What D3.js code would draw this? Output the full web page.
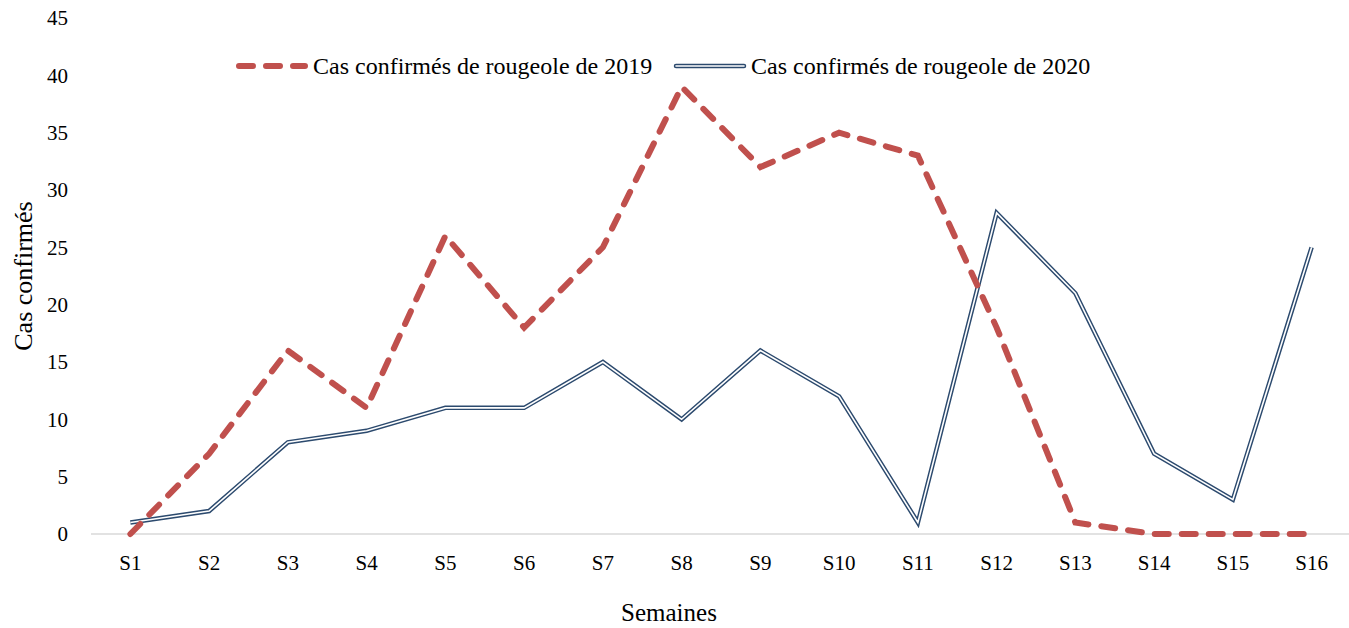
<!DOCTYPE html>
<html>
<head>
<meta charset="utf-8">
<script src="https://cdn.jsdelivr.net/npm/d3@7"></script>
<style>
  body { margin: 0; background: #fff; }
  text { font-family: "Liberation Serif", "Times New Roman", serif; fill: #000; }
</style>
</head>
<body>
<svg id="chart" width="1349" height="628"></svg>
<script>
var weeks = ["S1","S2","S3","S4","S5","S6","S7","S8","S9","S10","S11","S12","S13","S14","S15","S16"];
var cases2019 = [0, 7, 16, 11, 26, 18, 25, 39, 32, 35, 33, 18, 1, 0, 0, 0];
var cases2020 = [1, 2, 8, 9, 11, 11, 15, 10, 16, 12, 1, 28, 21, 7, 3, 25];
var yTicks = [0, 5, 10, 15, 20, 25, 30, 35, 40, 45];
var seriesNames = ["Cas confirmés de rougeole de 2019", "Cas confirmés de rougeole de 2020"];

var svg = d3.select("#chart");
var red = "#c0504d", navy = "#2c4a6e";

var x = d3.scaleBand().domain(weeks).range([91, 1351]);
var y = d3.scaleLinear().domain([0, 45]).range([534, 18]);
var cx = d => x(d) + x.bandwidth() / 2;

// y tick labels, no axis line
svg.append("g").selectAll("text")
    .data(yTicks)
    .join("text")
    .attr("x", 68)
    .attr("y", d => y(d))
    .attr("dy", "0.35em")
    .attr("text-anchor", "end")
    .style("font-size", "21px")
    .text(d => d);

// x axis line
svg.append("line")
    .attr("x1", 91).attr("x2", 1351)
    .attr("y1", y(0)).attr("y2", y(0))
    .attr("stroke", "#d9d9d9").attr("stroke-width", 1.3);

svg.append("g").selectAll("text")
    .data(weeks)
    .join("text")
    .attr("x", d => cx(d))
    .attr("y", 570)
    .attr("text-anchor", "middle")
    .style("font-size", "21px")
    .text(d => d);

// titles
svg.append("text")
    .attr("transform", "translate(32,276) rotate(-90)")
    .attr("text-anchor", "middle")
    .style("font-size", "26px")
    .text("Cas confirmés");

svg.append("text")
    .attr("x", 669).attr("y", 621)
    .attr("text-anchor", "middle")
    .style("font-size", "25px")
    .text("Semaines");

var line = d3.line()
    .x((d, i) => cx(weeks[i]))
    .y(d => y(d));

// 2020: double line (navy with white core)
svg.append("path")
    .attr("d", line(cases2020))
    .attr("fill", "none")
    .attr("stroke", navy)
    .attr("stroke-width", 4.5)
    .attr("stroke-linejoin", "miter");
svg.append("path")
    .attr("d", line(cases2020))
    .attr("fill", "none")
    .attr("stroke", "#fff")
    .attr("stroke-width", 1.6);

// 2019: dashed red
svg.append("path")
    .attr("d", line(cases2019))
    .attr("fill", "none")
    .attr("stroke", red)
    .attr("stroke-width", 6)
    .attr("stroke-linecap", "round")
    .attr("stroke-dasharray", "14 13");

// legend
var lg = svg.append("g");
lg.append("line")
    .attr("x1", 239).attr("x2", 305).attr("y1", 66).attr("y2", 66)
    .attr("stroke", red).attr("stroke-width", 6)
    .attr("stroke-linecap", "round").attr("stroke-dasharray", "14 13");
lg.append("text")
    .attr("x", 313).attr("y", 66).attr("dy", "0.35em")
    .style("font-size", "24px")
    .text(seriesNames[0]);

lg.append("line")
    .attr("x1", 676).attr("x2", 744).attr("y1", 66).attr("y2", 66)
    .attr("stroke", navy).attr("stroke-width", 4.5).attr("stroke-linecap", "round");
lg.append("line")
    .attr("x1", 676).attr("x2", 744).attr("y1", 66).attr("y2", 66)
    .attr("stroke", "#fff").attr("stroke-width", 1.6).attr("stroke-linecap", "round");
lg.append("text")
    .attr("x", 751).attr("y", 66).attr("dy", "0.35em")
    .style("font-size", "24px")
    .text(seriesNames[1]);
</script>
</body>
</html>
